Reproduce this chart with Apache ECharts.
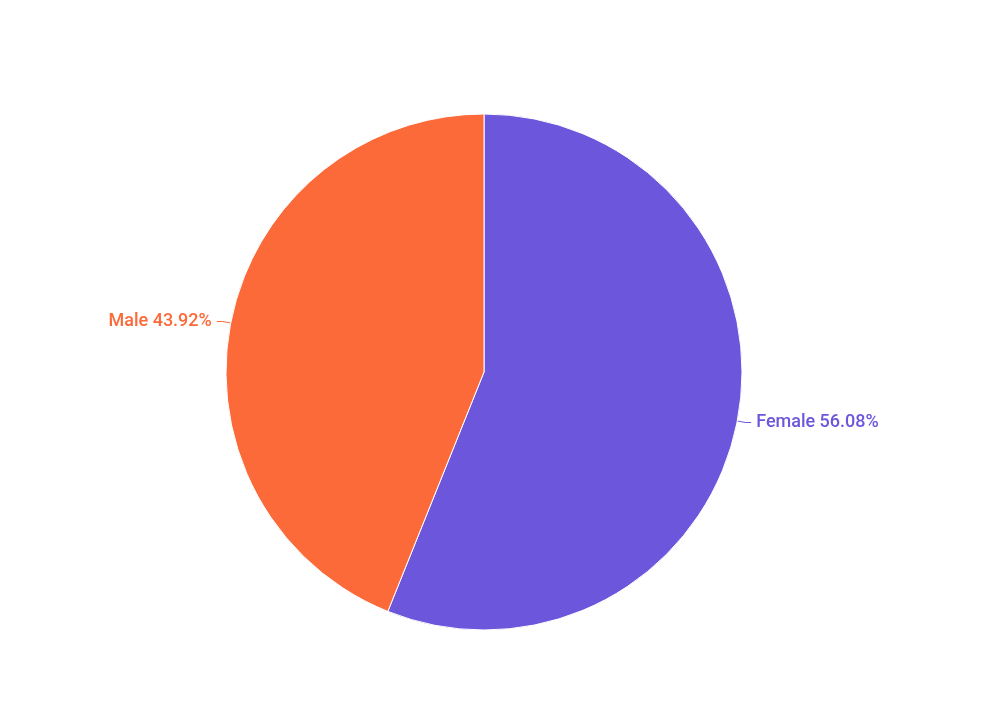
<!DOCTYPE html>
<html><head><meta charset="utf-8">
<script src="https://cdn.jsdelivr.net/npm/echarts@6/dist/echarts.min.js"></script>
<style>html,body{margin:0;padding:0;background:#fff}#c{width:1000px;height:703px}</style>
</head><body><div id="c"></div>
<script>
const categories = ['Female', 'Male'];
const values = [56.08, 43.92];
const colors = ['#6c56dc', '#fd6a3a'];
const chart = echarts.init(document.getElementById('c'));
chart.setOption({
  animation: false,
  series: [{
    type: 'pie',
    center: [484, 372],
    radius: [0, 258],
    startAngle: 90,
    clockwise: true,
    data: categories.map((n, i) => ({ name: n, value: values[i], itemStyle: { color: colors[i] },
      label: { color: colors[i] }, labelLine: { lineStyle: { color: colors[i] } } })),
    itemStyle: { borderColor: '#fff', borderWidth: 1 },
    label: { formatter: p => p.name + ' ' + p.value.toFixed(2) + '%', fontFamily: 'Roboto', fontSize: 18, fontWeight: 500 },
    labelLine: { length: 8, length2: 6 }
  }]
});
</script></body></html>
